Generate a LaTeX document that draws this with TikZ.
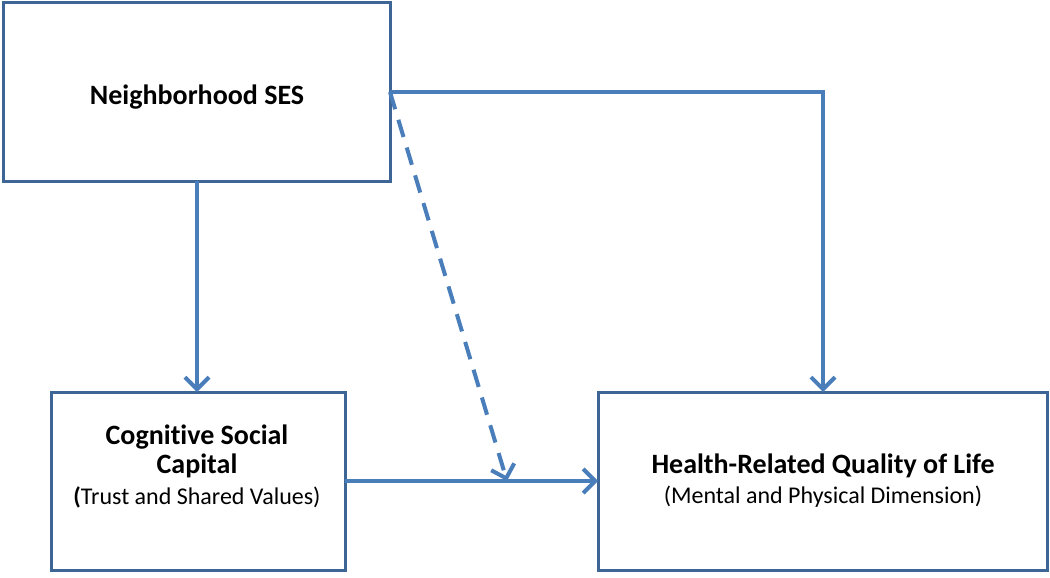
\documentclass[tikz,border=0pt]{standalone}
\usepackage{fontspec}
\setmainfont[Ligatures=NoCommon]{Carlito}
\usetikzlibrary{arrows.meta}
\definecolor{boxc}{HTML}{3D6596}
\definecolor{arrc}{HTML}{4A7EBB}
\tikzset{
  box/.style={draw=boxc, line width=3pt, fill=white, inner sep=0pt},
  conn/.style={draw=arrc, line width=4pt, -{Straight Barb[length=12pt,width=24pt,line width=4pt]}},
  dashconn/.style={conn, dash pattern=on 18pt off 11pt},
  bt/.style={font=\fontsize{28}{33}\selectfont\bfseries},
  rt/.style={font=\fontsize{24}{29}\selectfont},
}
\begin{document}
\begin{tikzpicture}[x=1pt,y=-1pt]
\useasboundingbox (0,0) rectangle (1050,578);
% boxes
\draw[box] (3,3) rectangle (390,181);
\coordinate (sesS) at (197,181);
\coordinate (sesE) at (390,92);
\draw[box] (51,392) rectangle (345,570);
\coordinate (cscN) at (197,392);
\coordinate (cscE) at (345,481);
\draw[box] (598,392) rectangle (1047,570);
\coordinate (hqN) at (823,392);
\coordinate (hqW) at (598,481);
\coordinate (mid) at (507,481);
% texts
\node[bt] (tses) at (197,97) {Neighborhood SES};
\node[bt] (tcs1) at (197,437) {Cognitive Social};
\node[bt] (tcs2) at (197,466) {Capital};
\node[rt] (tcs3) at (197,497) {\textbf{(}Trust and Shared Values)};
\node[bt] (thq1) at (823,466) {Health-Related Quality of Life};
\node[rt] (thq2) at (823,497) {(Mental and Physical Dimension)};
% connectors
\draw[conn] (sesS) -- (cscN);
\draw[conn] (sesE) -- (823,92) -- (hqN);
\draw[conn] (cscE) -- (hqW);
\draw[dashconn] (sesE) -- (mid);
\end{tikzpicture}
\end{document}
